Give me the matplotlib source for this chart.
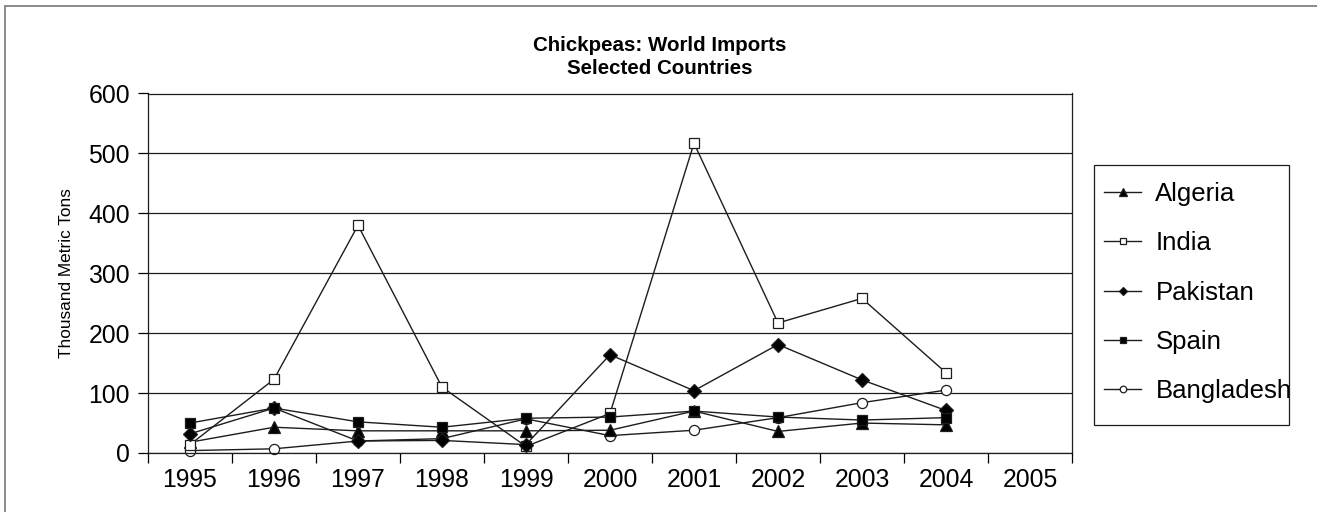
import matplotlib.pyplot as plt
from matplotlib.patches import Rectangle

plt.rcParams['font.family'] = ['Liberation Sans', 'DejaVu Sans']

years = ['1995', '1996', '1997', '1998', '1999', '2000', '2001', '2002', '2003', '2004', '2005']
algeria = [18, 43, 37, 37, 37, 38, 70, 36, 50, 47]
india = [14, 123, 380, 110, 11, 66, 517, 217, 258, 134]
pakistan = [32, 75, 20, 21, 14, 164, 104, 181, 122, 71]
spain = [50, 75, 52, 43, 58, 60, 70, 60, 55, 59]
bangladesh = [4, 7, 20, 24, 57, 29, 38, 59, 84, 105]

# name, values, marker, face, zorder
series = [
    ('Algeria', algeria, '^', 'k', 3),
    ('India', india, 's', 'white', 3),
    ('Pakistan', pakistan, 'D', 'k', 3),
    ('Spain', spain, 's', 'k', 4),
    ('Bangladesh', bangladesh, 'o', 'white', 2.5),
]
marker_sizes = {'^': 8.5, 's': 7, 'D': 7, 'o': 7.3}
ink = '#1e1c1d'

fig = plt.figure(figsize=(13.17, 5.12), dpi=100)
ax = fig.add_axes([148 / 1317, 59 / 512, 924 / 1317, 359.5 / 512])

x = list(range(len(algeria)))
for name, vals, mk, fc, z in series:
    ax.plot(x, vals, color=ink, lw=1.0, marker=mk, markersize=marker_sizes[mk],
            markerfacecolor=fc, markeredgecolor=ink, markeredgewidth=0.9,
            label=name, clip_on=False, zorder=z)

ax.set_xlim(-0.5, len(years) - 0.5)
ax.set_ylim(0, 600)
ax.set_yticks(range(0, 601, 100))
ax.yaxis.grid(True, color=ink, lw=0.9)
ax.set_axisbelow(True)

# category axis: tick marks between years, labels centred
ax.set_xticks([i - 0.5 for i in range(len(years) + 1)])
ax.set_xticklabels([])
ax.set_xticks(range(len(years)), minor=True)
ax.set_xticklabels(years, minor=True)
ax.tick_params(axis='x', which='major', length=7, width=0.9, direction='out')
ax.tick_params(axis='x', which='minor', length=0, pad=11, labelsize=17.8)
ax.tick_params(axis='y', length=7, width=0.9, direction='out', labelsize=17.8, pad=6)
for s in ax.spines.values():
    s.set_linewidth(0.9)
    s.set_color(ink)

ax.set_ylabel('Thousand Metric Tons', fontsize=12.4, labelpad=10)

fig.text(660 / 1317, 1 - 51 / 512, 'Chickpeas: World Imports', ha='center', va='baseline',
         fontsize=14.8, fontweight='bold')
fig.text(660 / 1317, 1 - 74 / 512, 'Selected Countries', ha='center', va='baseline',
         fontsize=14.8, fontweight='bold')

leg = ax.legend(loc='upper left', bbox_to_anchor=(1094 / 1317, 1 - 172 / 512),
                bbox_transform=fig.transFigure, borderaxespad=0,
                fontsize=18.5, frameon=False,
                markerscale=0.65, handlelength=1.44, labelspacing=0.98, borderpad=0.4,
                handletextpad=0.55)

# legend box, drawn separately so it hugs the text like the original
fig.patches.append(Rectangle((1094 / 1317, 1 - 425 / 512), 195 / 1317, 260 / 512,
                             transform=fig.transFigure, fill=False, edgecolor=ink, lw=0.9))

# outer chart border
fig.patches.append(Rectangle((5 / 1317, -0.1), 1.2, 1.1 - 6 / 512, transform=fig.transFigure,
                             fill=False, edgecolor='#777777', lw=1.2))

plt.savefig('out.png', dpi=100)
